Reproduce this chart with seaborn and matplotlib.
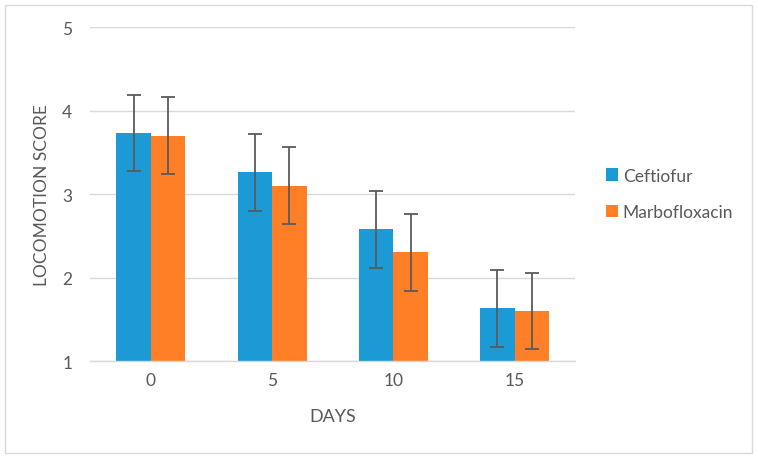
import matplotlib
matplotlib.use("Agg")
import matplotlib.pyplot as plt
import seaborn as sns
import pandas as pd
import numpy as np
from matplotlib.patches import Rectangle

days = ["0", "5", "10", "15"]
ceftiofur = [3.73, 3.26, 2.58, 1.63]
marbofloxacin = [3.70, 3.10, 2.30, 1.60]
ceftiofur_err = [0.46, 0.46, 0.46, 0.46]
marbofloxacin_err = [0.46, 0.46, 0.46, 0.46]
series = ["Ceftiofur", "Marbofloxacin"]
colors = ["#1C9AD6", "#FF7F27"]

df = pd.DataFrame({
    "day": days * 2,
    "score": ceftiofur + marbofloxacin,
    "err": ceftiofur_err + marbofloxacin_err,
    "group": [series[0]] * 4 + [series[1]] * 4,
})

sns.set_theme(style="white")
plt.rcParams["font.family"] = ["Lato", "DejaVu Sans"]
text_color = "#595959"

fig = plt.figure(figsize=(7.58, 4.6), dpi=100)
ax = fig.add_axes([0.119, 0.213, 0.640, 0.726])

sns.barplot(data=df, x="day", y="score", hue="group", order=days,
            hue_order=series, palette=colors, width=0.567, errorbar=None,
            saturation=1, linewidth=0, ax=ax, zorder=2)

# error bars at bar centers
for cont, errs, vals in zip(ax.containers, [ceftiofur_err, marbofloxacin_err],
                            [ceftiofur, marbofloxacin]):
    xs = [p.get_x() + p.get_width() / 2 for p in cont.patches]
    ax.errorbar(xs, vals, yerr=errs, fmt="none", ecolor="#5a5a5a",
                elinewidth=1.3, capsize=5, capthick=1.3, zorder=3)

ax.set_ylim(1, 5)
ax.set_yticks([1, 2, 3, 4, 5])
ax.set_xlim(-0.5, 3.5)
ax.yaxis.grid(True, color="#d9d9d9", linewidth=1.0, zorder=0)
ax.set_axisbelow(True)
for s in ["top", "right", "left"]:
    ax.spines[s].set_visible(False)
ax.spines["bottom"].set_color("#d9d9d9")
ax.spines["bottom"].set_linewidth(1.0)
ax.tick_params(axis="both", length=0, labelsize=12.5, colors=text_color)
ax.tick_params(axis="x", pad=8)
ax.tick_params(axis="y", pad=13)
ax.set_xlabel("DAYS", fontsize=13, color=text_color, labelpad=14)
ax.set_ylabel("LOCOMOTION SCORE", fontsize=12.5, color=text_color, labelpad=9)

leg = ax.legend(loc="center left", bbox_to_anchor=(1.03, 0.5), frameon=False,
                fontsize=12.5, handlelength=0.7, handleheight=0.7,
                handletextpad=0.3, labelspacing=1.2)
for t in leg.get_texts():
    t.set_color(text_color)

fig.patches.append(Rectangle((5 / 758, 6 / 460), 747 / 758, 448 / 460,
                             transform=fig.transFigure, fill=False,
                             edgecolor="#d9d9d9", linewidth=1.0))

fig.savefig("out.png", dpi=100)
